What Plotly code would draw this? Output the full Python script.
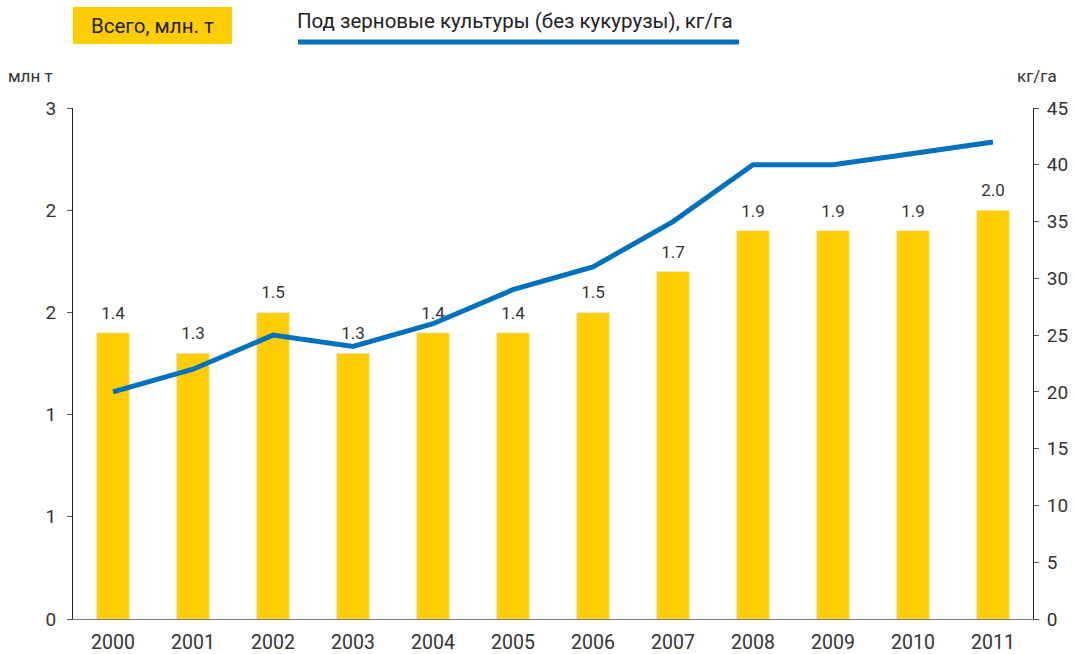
import plotly.graph_objects as go

years = ["2000", "2001", "2002", "2003", "2004", "2005", "2006", "2007", "2008", "2009", "2010", "2011"]
total_mt = [1.4, 1.3, 1.5, 1.3, 1.4, 1.4, 1.5, 1.7, 1.9, 1.9, 1.9, 2.0]
kg_per_ha = [20, 22, 25, 24, 26, 29, 31, 35, 40, 40, 41, 42]
left_ticks = [0, 0.5, 1, 1.5, 2, 2.5]
left_labels = ["0", "1", "1", "2", "2", "3"]
right_ticks = [0, 5, 10, 15, 20, 25, 30, 35, 40, 45]

YELLOW = "#FFCD05"
BLUE = "#0071BC"
TXT = "#333333"
FONT = "Roboto"

fig = go.Figure()
fig.add_trace(go.Bar(
    x=years, y=total_mt, marker_color=YELLOW, width=0.41,
    name="Всего, млн. т", yaxis="y"))
# value labels above bars (invisible marker pushes text upward)
fig.add_trace(go.Scatter(
    x=years, y=total_mt, mode="markers+text", marker=dict(size=14, opacity=0),
    text=[f"{v:.1f}" for v in total_mt], textposition="top center",
    textfont=dict(size=17, color=TXT, family=FONT), cliponaxis=False,
    hoverinfo="skip", yaxis="y"))
fig.add_trace(go.Scatter(
    x=years, y=kg_per_ha, mode="lines", line=dict(color=BLUE, width=5),
    name="Под зерновые культуры (без кукурузы), кг/га", yaxis="y2"))

fig.update_layout(
    width=1074, height=654,
    margin=dict(l=73, r=41, t=108, b=35),
    plot_bgcolor="white", paper_bgcolor="white",
    showlegend=False,
    font=dict(family=FONT, size=19, color=TXT),
    xaxis=dict(range=[-0.5, len(years) - 0.5], showline=True, linecolor="#777777",
               linewidth=1, ticks="", tickfont=dict(size=19.5, color=TXT), showgrid=False,
               ticklabelstandoff=6, automargin=False),
    yaxis=dict(range=[0, 2.5], tickvals=left_ticks, ticktext=left_labels,
               showline=True, linecolor="#222222", linewidth=1, ticks="outside",
               ticklen=5, tickcolor="#555555", showgrid=False, zeroline=False,
               tickfont=dict(size=19, color=TXT), ticklabelstandoff=7, automargin=False),
    yaxis2=dict(range=[0, 45], tickvals=right_ticks, overlaying="y", side="right",
                showline=True, linecolor="#222222", linewidth=1, ticks="outside",
                ticklen=5, tickcolor="#555555", showgrid=False, zeroline=False,
                tickfont=dict(size=19, color=TXT), ticklabelstandoff=4, automargin=False),
)

# plot area: x 73..1033 px, y 108..619 px
def px(x):
    return (x - 73) / 960

def py(y):
    return (619 - y) / 511

fig.add_shape(type="rect", xref="paper", yref="paper", x0=px(73), x1=px(232), y0=py(44), y1=py(7),
              fillcolor=YELLOW, line=dict(width=0), layer="below")
fig.add_annotation(xref="paper", yref="paper", x=px(152.5), y=py(26), xanchor="center", yanchor="middle",
                   text="Всего, млн. т", showarrow=False, font=dict(size=20.5, color="#222222"))
fig.add_shape(type="line", xref="paper", yref="paper", x0=px(298), x1=px(739), y0=py(42), y1=py(42),
              line=dict(color=BLUE, width=5))
fig.add_annotation(xref="paper", yref="paper", x=px(295), y=py(21), xanchor="left", yanchor="middle",
                   text="Под зерновые культуры (без кукурузы), кг/га",
                   showarrow=False, font=dict(size=20.5, color="#222222"))
fig.add_annotation(xref="paper", yref="paper", x=px(6), y=py(76), xanchor="left", yanchor="middle",
                   text="млн т", showarrow=False, font=dict(size=17, color=TXT))
fig.add_annotation(xref="paper", yref="paper", x=px(1015), y=py(76), xanchor="left", yanchor="middle",
                   text="кг/га", showarrow=False, font=dict(size=17, color=TXT))

fig.write_html("out.html", config={"displayModeBar": False},
               post_script="document.body.style.margin='0px';document.body.style.overflow='hidden';")
